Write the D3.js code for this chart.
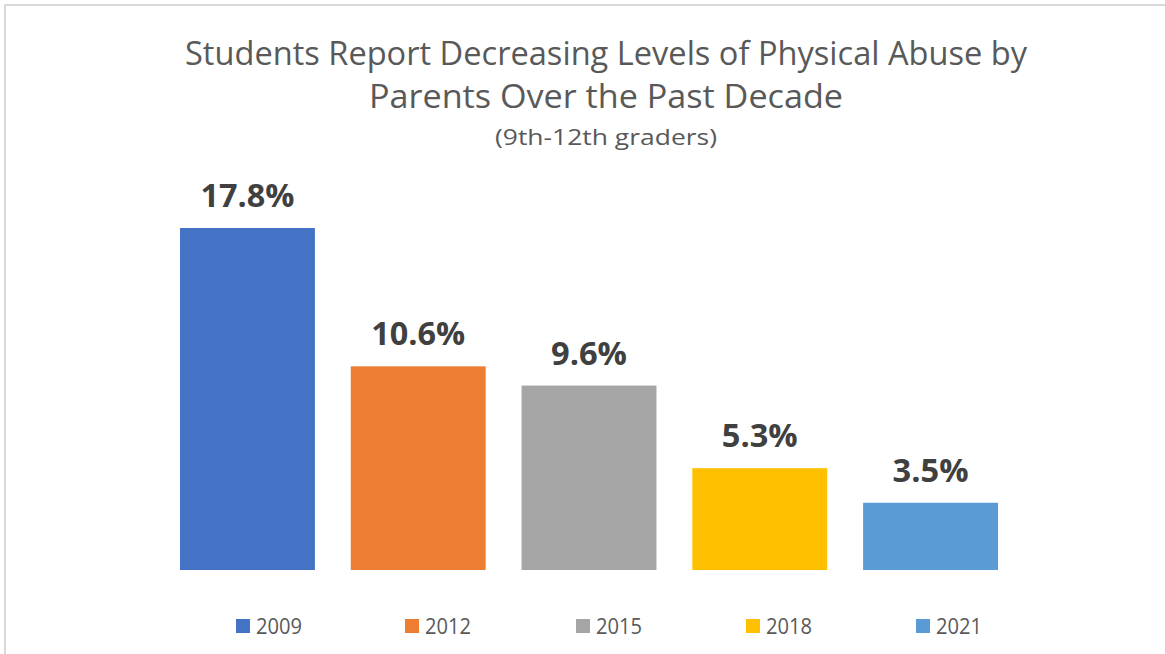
<!DOCTYPE html>
<html>
<head>
<meta charset="utf-8">
<script src="https://cdn.jsdelivr.net/npm/d3@7"></script>
<style>
  body { margin: 0; background: #fff; }
  svg text { font-family: "Open Sans", "Noto Sans", sans-serif; }
</style>
</head>
<body>
<svg id="chart" width="1165" height="654"></svg>
<script>
// data
var years = ['2009', '2012', '2015', '2018', '2021'];
var values = [17.8, 10.6, 9.6, 5.3, 3.5];
var colors = ['#4472c4', '#ed7d31', '#a5a5a5', '#ffc000', '#5b9bd5'];
var titleLines = ['Students Report Decreasing Levels of Physical Abuse by', 'Parents Over the Past Decade'];
var subtitle = '(9th-12th graders)';

var svg = d3.select('#chart');

// chart border (only top and left visible in the frame)
svg.append('rect')
    .attr('x', 5).attr('y', 5)
    .attr('width', 1200).attr('height', 700)
    .attr('fill', 'none')
    .attr('stroke', '#d9d9d9')
    .attr('stroke-width', 2);

// fit text to a given width (Calibri is narrow, fonts here are wider)
var fitText = function (sel, w) {
    sel.attr('textLength', w).attr('lengthAdjust', 'spacingAndGlyphs');
};

// title
var titleW = [842, 474];
var titleY = [65, 108];
titleLines.forEach(function (t, i) {
    svg.append('text')
        .attr('x', 606).attr('y', titleY[i])
        .attr('text-anchor', 'middle')
        .attr('font-size', 33)
        .attr('fill', '#595959')
        .text(t)
        .call(fitText, titleW[i]);
});
svg.append('text')
    .attr('x', 606).attr('y', 145)
    .attr('text-anchor', 'middle')
    .attr('font-size', 22)
    .attr('fill', '#595959')
    .text(subtitle)
    .call(fitText, 222);

// scales
var x = d3.scaleBand()
    .domain(years)
    .range([180, 998])
    .paddingInner(0.21)
    .paddingOuter(0);

var y = d3.scaleLinear()
    .domain([0, 17.8])
    .range([570, 228]);

// bars
svg.selectAll('.bar')
    .data(values)
  .enter().append('rect')
    .attr('class', 'bar')
    .attr('x', function (d, i) { return x(years[i]); })
    .attr('y', function (d) { return y(d); })
    .attr('width', x.bandwidth())
    .attr('height', function (d) { return y(0) - y(d); })
    .attr('fill', function (d, i) { return colors[i]; });

// data labels
svg.selectAll('.lbl')
    .data(values)
  .enter().append('text')
    .attr('class', 'lbl')
    .attr('x', function (d, i) { return x(years[i]) + x.bandwidth() / 2; })
    .attr('y', function (d) { return y(d) - 21; })
    .attr('text-anchor', 'middle')
    .attr('font-size', 33)
    .attr('font-weight', 'bold')
    .attr('fill', '#404040')
    .text(function (d) { return d.toFixed(1) + '%'; })
    .each(function (d) {
        var w = d >= 10 ? 94 : 76;
        d3.select(this).call(fitText, w);
    });

// legend
var legendX = [236, 405, 576, 746, 916];
var lg = svg.selectAll('.leg')
    .data(years)
  .enter().append('g')
    .attr('class', 'leg')
    .attr('transform', function (d, i) { return 'translate(' + legendX[i] + ',619)'; });
lg.append('rect')
    .attr('width', 14).attr('height', 14)
    .attr('fill', function (d, i) { return colors[i]; });
lg.append('text')
    .attr('x', 20).attr('y', 15)
    .attr('font-size', 22)
    .attr('fill', '#595959')
    .text(function (d) { return d; })
    .call(fitText, 46);
</script>
</body>
</html>
